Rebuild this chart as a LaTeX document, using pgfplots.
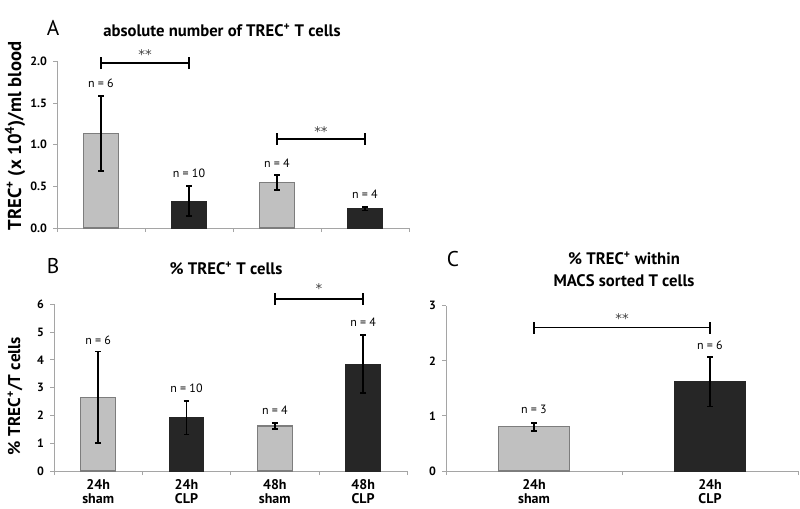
\documentclass[border=0pt]{standalone}
\usepackage{fontspec}
\setmainfont{PT Sans}
\newfontfamily\starfont{DejaVu Sans}
\usepackage{pgfplots}
\pgfplotsset{compat=1.18}
\usepackage{pgfplotstable}
\definecolor{lightbar}{RGB}{192,192,192}
\definecolor{lightedge}{RGB}{125,125,125}
\definecolor{darkbar}{RGB}{38,38,38}
\definecolor{axgray}{RGB}{165,165,165}

% panel A
\pgfplotstableread{
x y e
0.5 1.13 0.45
2.5 0.55 0.09
}\Alight
\pgfplotstableread{
x y e
1.5 0.32 0.18
3.5 0.23 0.02
}\Adark
% panel B
\pgfplotstableread{
x y e
0.5 2.65 1.65
2.5 1.62 0.10
}\Blight
\pgfplotstableread{
x y e
1.5 1.91 0.60
3.5 3.85 1.05
}\Bdark
% panel C
\pgfplotstableread{
x y e
0.5 0.80 0.07
}\Clight
\pgfplotstableread{
x y e
1.5 1.62 0.45
}\Cdark

\pgfplotsset{
  panel/.style={
    scale only axis,
    anchor=south west,
    axis x line=bottom, axis y line=left,
    axis line style={-, draw=axgray, line width=0.6pt},
    every tick/.style={draw=axgray, line width=0.6pt},
    tick align=outside,
    major tick length=3pt,
    ymin=0,
    clip=false,
    xticklabels={},
    yticklabel style={font=\fontsize{9}{10}\selectfont\bfseries, xshift=-1pt},
    /pgf/number format/assume math mode=true,
    extra x tick style={major tick length=0pt,
      tick label style={font=\fontsize{10.5}{10}\selectfont\bfseries, align=center, yshift=-3pt}},
  },
  lightb/.style={ybar, bar shift=0pt, fill=lightbar, draw=lightedge, line width=0.8pt},
  darkb/.style={ybar, bar shift=0pt, fill=darkbar, draw=darkbar, line width=0.8pt},
  errs/.style={error bars/.cd, y dir=both, y explicit,
    error bar style={line width=1.3pt, black},
    error mark options={line width=1.3pt, mark size=2.2pt, black, rotate=90}},
}
\newcommand{\nlab}[3]{\node[font=\fontsize{9}{10}\selectfont] at (axis cs:#1,#2) {#3};}
\newcommand{\brk}[5]{%
  \draw[line width=1.1pt] (axis cs:#1,#3) -- (axis cs:#2,#3);
  \draw[line width=1.1pt] (axis cs:#1,#3) ++(0,-4.5pt) -- ++(0,9pt);
  \draw[line width=1.1pt] (axis cs:#2,#3) ++(0,-4.5pt) -- ++(0,9pt);
  \node[font=\starfont\fontsize{10}{10}\selectfont, text=black!75, inner sep=0pt] at (axis cs:{(#1+#2)/2},#4) {#5};}

\begin{document}
\begin{tikzpicture}
\path[use as bounding box] (0pt,0pt) rectangle (600pt,-381pt);

% ---------- Panel A ----------
\begin{axis}[panel, at={(42.75pt,-171pt)}, width=264pt, height=125pt,
  xmin=0, xmax=4, ymax=2, xtick={0,1,2,3,4},
  ytick={0,0.5,1,1.5,2},
  yticklabel style={/pgf/number format/.cd, fixed, fixed zerofill, precision=1},
  bar width=26pt]
\addplot[lightb, errs] table[x=x, y=y, y error=e] {\Alight};
\addplot[darkb, errs] table[x=x, y=y, y error=e] {\Adark};
\nlab{0.5}{1.74}{n = 6}
\nlab{1.5}{0.66}{n = 10}
\nlab{2.5}{0.78}{n = 4}
\nlab{3.5}{0.40}{n = 4}
\brk{0.5}{1.5}{1.98}{2.08}{**}
\brk{2.5}{3.5}{1.07}{1.16}{**}
\end{axis}

% ---------- Panel B ----------
\begin{axis}[panel, at={(40.5pt,-353.25pt)}, width=265pt, height=125pt,
  xmin=0, xmax=4, ymax=6, xtick={0,1,2,3,4},
  ytick={0,1,...,6},
  extra x ticks={0.5,1.5,2.5,3.5},
  extra x tick labels={{24h\\sham},{24h\\CLP},{48h\\sham},{48h\\CLP}},
  bar width=26pt]
\addplot[lightb, errs] table[x=x, y=y, y error=e] {\Blight};
\addplot[darkb, errs] table[x=x, y=y, y error=e] {\Bdark};
\nlab{0.5}{4.72}{n = 6}
\nlab{1.5}{2.97}{n = 10}
\nlab{2.5}{2.19}{n = 4}
\nlab{3.5}{5.34}{n = 4}
\brk{2.5}{3.5}{6.2}{6.57}{*}
\end{axis}

% ---------- Panel C ----------
\begin{axis}[panel, at={(334.5pt,-353.25pt)}, width=264pt, height=124pt,
  xmin=0, xmax=2, ymax=3, xtick={0,1,2},
  ytick={0,1,2,3},
  extra x ticks={0.5,1.5},
  extra x tick labels={{24h\\sham},{24h\\CLP}},
  bar width=53pt]
\addplot[lightb, errs] table[x=x, y=y, y error=e] {\Clight};
\addplot[darkb, errs] table[x=x, y=y, y error=e] {\Cdark};
\nlab{0.5}{1.12}{n = 3}
\nlab{1.5}{2.29}{n = 6}
\brk{0.5}{1.5}{2.60}{2.77}{**}
\end{axis}

% ---------- titles and labels ----------
\node[font=\fontsize{16}{16}\selectfont] at (39.75pt,-21pt) {A};
\node[font=\fontsize{12.5}{14}\selectfont\bfseries] at (166.5pt,-22.5pt) {absolute number of TREC\textsuperscript{+} T cells};
\node[font=\fontsize{14}{15}\selectfont\bfseries, rotate=90] at (11.25pt,-102pt) {TREC\textsuperscript{+} (x 10\textsuperscript{4})/ml blood};

\node[font=\fontsize{16}{16}\selectfont] at (39.75pt,-199.5pt) {B};
\node[font=\fontsize{12.5}{14}\selectfont\bfseries] at (169.5pt,-201pt) {\% TREC\textsuperscript{+} T cells};
\node[font=\fontsize{12.8}{15}\selectfont\bfseries, rotate=90] at (11.25pt,-297pt) {\% TREC\textsuperscript{+}/T cells};

\node[font=\fontsize{16}{16}\selectfont] at (339.75pt,-194.25pt) {C};
\node[font=\fontsize{12.5}{16.5}\selectfont\bfseries, align=center] at (468pt,-201.75pt) {\% TREC\textsuperscript{+} within\\MACS sorted T cells};
\end{tikzpicture}
\end{document}
